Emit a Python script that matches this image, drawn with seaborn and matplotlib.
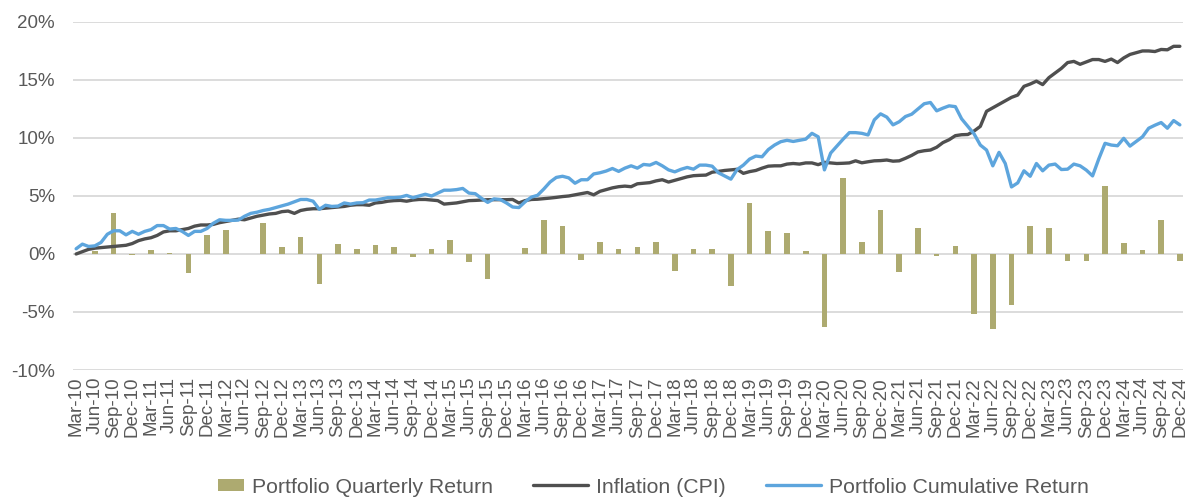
import numpy as np
import pandas as pd
import matplotlib
matplotlib.use("Agg")
import matplotlib.pyplot as plt
from matplotlib.patches import Rectangle, Patch
from matplotlib.lines import Line2D
from matplotlib.legend_handler import HandlerPatch
from matplotlib.ticker import FuncFormatter
import seaborn as sns

# Quarter-end tick labels, Mar-10 .. Dec-24
years = list(range(2010, 2025))
quarter_months = ["Mar", "Jun", "Sep", "Dec"]
quarter_labels = [f"{m}-{str(y)[2:]}" for y in years for m in quarter_months]

# Portfolio quarterly return (%), one value per quarter
quarterly_return = [
    0.0, 0.3, 3.5, -0.05, 0.35, 0.12, -1.6, 1.6, 2.05, 0.0,
    2.7, 0.64, 1.47, -2.6, 0.84, 0.46, 0.75, 0.64, -0.25, 0.43,
    1.24, -0.72, -2.17, 0.0, 0.52, 2.9, 2.37, -0.52, 1.07, 0.43,
    0.64, 1.07, -1.45, 0.46, 0.43, -2.75, 4.39, 1.94, 1.85, 0.29,
    -6.3, 6.53, 1.01, 3.79, -1.53, 2.28, -0.2, 0.72, -5.14, -6.45,
    -4.42, 2.37, 2.23, -0.58, -0.64, 5.87, 0.98, 0.32, 2.89, -0.6,
]

# Inflation (CPI), cumulative %, monthly from Mar-10
cpi = [
    0.0, 0.2, 0.4, 0.5, 0.55, 0.6, 0.65, 0.7, 0.75, 0.9,
    1.15, 1.3, 1.4, 1.6, 1.9, 2.0, 2.0, 2.1, 2.2, 2.4,
    2.5, 2.5, 2.55, 2.7, 2.8, 2.9, 3.0, 2.95, 3.1, 3.25,
    3.35, 3.45, 3.5, 3.65, 3.7, 3.5, 3.75, 3.85, 3.9, 3.9,
    3.95, 4.0, 4.05, 4.1, 4.2, 4.25, 4.25, 4.2, 4.4, 4.45,
    4.55, 4.6, 4.62, 4.55, 4.65, 4.7, 4.7, 4.65, 4.6, 4.3,
    4.35, 4.4, 4.5, 4.6, 4.62, 4.65, 4.68, 4.68, 4.68, 4.68,
    4.7, 4.4, 4.6, 4.7, 4.72, 4.77, 4.82, 4.88, 4.95, 5.0,
    5.1, 5.2, 5.3, 5.1, 5.4, 5.55, 5.7, 5.8, 5.85, 5.8,
    6.05, 6.1, 6.15, 6.3, 6.4, 6.2, 6.35, 6.5, 6.65, 6.75,
    6.78, 6.8, 7.05, 7.12, 7.2, 7.25, 7.3, 6.95, 7.1, 7.2,
    7.4, 7.57, 7.6, 7.6, 7.75, 7.8, 7.75, 7.85, 7.85, 7.7,
    7.9, 7.85, 7.8, 7.82, 7.85, 8.03, 7.86, 7.95, 8.03, 8.05,
    8.1, 8.0, 8.03, 8.25, 8.5, 8.8, 8.9, 8.96, 9.2, 9.6,
    9.85, 10.2, 10.28, 10.3, 10.6, 11.0, 12.3, 12.6, 12.9, 13.2,
    13.5, 13.7, 14.45, 14.65, 14.9, 14.6, 15.2, 15.6, 16.0, 16.5,
    16.6, 16.35, 16.55, 16.76, 16.76, 16.6, 16.8, 16.5, 16.9, 17.2,
    17.35, 17.5, 17.5, 17.45, 17.63, 17.6, 17.9, 17.9,
]

# Portfolio cumulative return, %, monthly from Mar-10
cumulative_return = [
    0.45, 0.85, 0.65, 0.7, 1.0, 1.7, 2.0, 2.0, 1.65, 1.95,
    1.7, 1.95, 2.1, 2.45, 2.45, 2.15, 2.2, 1.95, 1.6, 1.95,
    1.95, 2.2, 2.65, 2.95, 2.9, 2.9, 2.92, 3.25, 3.5, 3.6,
    3.75, 3.85, 4.0, 4.15, 4.3, 4.5, 4.7, 4.7, 4.55, 3.85,
    4.2, 4.1, 4.13, 4.4, 4.3, 4.4, 4.42, 4.65, 4.65, 4.75,
    4.86, 4.86, 4.9, 5.05, 4.85, 5.0, 5.15, 5.0, 5.25, 5.5,
    5.5, 5.55, 5.65, 5.25, 5.2, 4.8, 4.45, 4.75, 4.7, 4.4,
    4.05, 4.0, 4.5, 4.9, 5.06, 5.6, 6.2, 6.6, 6.7, 6.56,
    6.1, 6.4, 6.4, 6.9, 7.0, 7.15, 7.37, 7.12, 7.4, 7.6,
    7.4, 7.72, 7.66, 7.89, 7.6, 7.25, 7.08, 7.3, 7.46, 7.31,
    7.66, 7.66, 7.57, 7.0, 6.73, 6.45, 7.28, 7.66, 8.18, 8.44,
    8.38, 9.0, 9.39, 9.68, 9.8, 9.7, 9.8, 9.9, 10.4, 10.1,
    7.25, 8.7, 9.3, 9.9, 10.46, 10.46, 10.4, 10.26, 11.56, 12.08,
    11.8, 11.13, 11.4, 11.85, 12.05, 12.5, 12.95, 13.06, 12.34, 12.57,
    12.77, 12.7, 11.65, 11.0, 10.35, 9.39, 8.96, 7.6, 8.76, 7.8,
    5.78, 6.13, 7.17, 6.7, 7.8, 7.17, 7.66, 7.75, 7.28, 7.31,
    7.75, 7.6, 7.23, 6.73, 8.2, 9.54, 9.39, 9.33, 9.97, 9.3,
    9.7, 10.1, 10.84, 11.1, 11.33, 10.84, 11.5, 11.13,
]

BAR_COLOR = "#ADAA70"
CPI_COLOR = "#4F4F4F"
CUM_COLOR = "#5DA5DD"
TEXT_COLOR = "#595959"
GRID_COLOR = "#D9D9D9"

months = np.arange(len(cpi))
quarter_pos = np.arange(len(quarterly_return)) * 3

bars = pd.DataFrame({"month": quarter_pos, "ret": quarterly_return})
lines = pd.DataFrame({"month": months, "cpi": cpi, "cum": cumulative_return})

sns.set_theme(style="white")
plt.rcParams["font.family"] = ["Liberation Sans", "DejaVu Sans"]

fig = plt.figure(figsize=(11.93, 4.99), dpi=100)
ax = fig.add_axes([0.0612, 0.2585, 0.9304, 0.6975])

ax.set_axisbelow(True)
ax.yaxis.grid(True, color=GRID_COLOR, linewidth=1.3)
ax.xaxis.grid(False)

sns.barplot(data=bars, x="month", y="ret", native_scale=True, width=0.3,
            color=BAR_COLOR, saturation=1, linewidth=0, errorbar=None,
            ax=ax, zorder=2)
sns.lineplot(data=lines, x="month", y="cpi", color=CPI_COLOR, linewidth=2.4,
             ax=ax, zorder=3)
sns.lineplot(data=lines, x="month", y="cum", color=CUM_COLOR, linewidth=2.4,
             ax=ax, zorder=4)

ax.set_xlim(-0.5, len(cpi) - 0.5)
ax.set_ylim(-10, 20)
ax.set_yticks(np.arange(-10, 21, 5))
ax.yaxis.set_major_formatter(FuncFormatter(lambda v, _: f"{v:.0f}%"))
ax.set_xticks(quarter_pos)
ax.set_xticklabels(quarter_labels, rotation=90)
ax.tick_params(axis="both", length=0, labelsize=13.5, labelcolor=TEXT_COLOR)
ax.tick_params(axis="x", pad=5)
ax.tick_params(axis="y", pad=13)
ax.set_xlabel("")
ax.set_ylabel("")
for s in ax.spines.values():
    s.set_visible(False)


def small_box(legend, orig_handle, xdescent, ydescent, width, height, fontsize):
    side = height * 0.85
    return Rectangle((xdescent + width - side * 2.1, ydescent + (height - side) / 2),
                     side * 2.1, side)


handles = [
    Patch(facecolor=BAR_COLOR, edgecolor="none"),
    Line2D([], [], color=CPI_COLOR, linewidth=2.4),
    Line2D([], [], color=CUM_COLOR, linewidth=2.4),
]
labels = ["Portfolio Quarterly Return", "Inflation (CPI)", "Portfolio Cumulative Return"]
fig.legend(handles, labels, loc="center", bbox_to_anchor=(0.5355, 0.024), ncol=3,
           frameon=False, fontsize=15.3, labelcolor=TEXT_COLOR,
           handlelength=2.6, handletextpad=0.35, columnspacing=1.9,
           handler_map={Patch: HandlerPatch(patch_func=small_box)})

fig.savefig("out.png", dpi=100)
